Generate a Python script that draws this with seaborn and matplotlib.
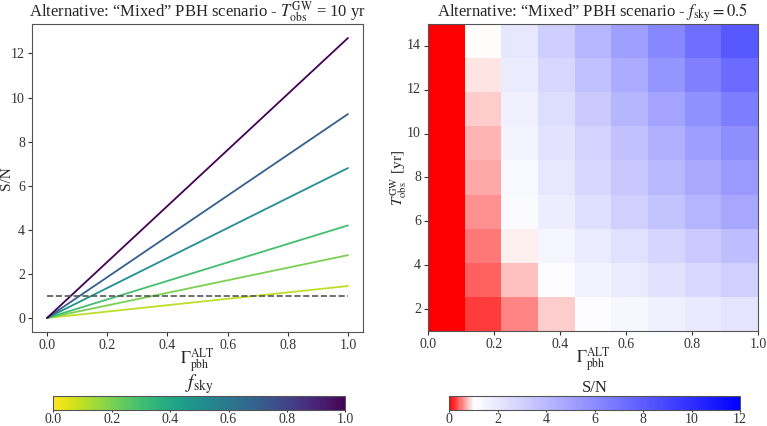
import numpy as np
import pandas as pd
import seaborn as sns
import matplotlib.pyplot as plt
from matplotlib.colors import LinearSegmentedColormap, Normalize
from matplotlib.cm import ScalarMappable

# left panel: S/N vs Gamma for several f_sky (T_obs = 10 yr)
gamma_pts = [0.0, 1.0]
fsky_vals = [0.1, 0.2, 0.3, 0.5, 0.7, 1.0]
sn_end = [1.45, 2.85, 4.2, 6.8, 9.25, 12.7]

# right panel: S/N grid, rows = T_obs (bottom to top), cols = Gamma
gamma_grid = [0.0, 0.125, 0.25, 0.375, 0.5, 0.625, 0.75, 0.875, 1.0]
tobs_grid = [1.0, 2.75, 4.5, 6.25, 8.0, 9.75, 11.5, 13.25, 15.0]
sn_grid = [
    [0, 0.28, 0.55, 0.83, 1.10, 1.38, 1.65, 1.93, 2.20],
    [0, 0.38, 0.75, 1.13, 1.50, 1.88, 2.25, 2.63, 3.00],
    [0, 0.48, 0.95, 1.43, 1.90, 2.38, 2.85, 3.33, 3.80],
    [0, 0.60, 1.20, 1.80, 2.40, 3.00, 3.60, 4.20, 4.80],
    [0, 0.68, 1.35, 2.03, 2.70, 3.38, 4.05, 4.73, 5.40],
    [0, 0.74, 1.48, 2.21, 2.95, 3.69, 4.43, 5.16, 5.90],
    [0, 0.83, 1.65, 2.48, 3.30, 4.13, 4.95, 5.78, 6.60],
    [0, 0.93, 1.85, 2.78, 3.70, 4.63, 5.55, 6.48, 7.40],
    [0, 1.03, 2.05, 3.08, 4.10, 5.13, 6.15, 7.18, 8.20],
]

sns.set_style('ticks')
plt.rcParams.update({
    'font.family': ['Liberation Serif', 'DejaVu Serif'],
    'mathtext.fontset': 'stix',
    'axes.edgecolor': '#555555',
    'xtick.color': '#333333',
    'ytick.color': '#333333',
    'xtick.labelsize': 10,
    'ytick.labelsize': 10,
    'xtick.major.pad': 2,
    'ytick.major.pad': 2,
    'xtick.major.size': 3,
    'ytick.major.size': 3,
    'axes.labelsize': 11,
    'axes.titlesize': 12,
})

fig = plt.figure(figsize=(7.67, 4.26), dpi=100)
ax1 = fig.add_axes([0.0417, 0.2207, 0.4316, 0.723])
ax2 = fig.add_axes([0.558, 0.2230, 0.4303, 0.7207])
cax1 = fig.add_axes([0.0695, 0.0375, 0.3807, 0.034])
cax2 = fig.add_axes([0.5854, 0.0375, 0.3794, 0.034])

rows = []
for f, s in zip(fsky_vals, sn_end):
    for g, k in zip(gamma_pts, [0.0, 1.0]):
        rows.append({'gamma': g, 'sn': s * k, 'fsky': f})
df = pd.DataFrame(rows)
sns.lineplot(data=df, x='gamma', y='sn', hue='fsky', palette='viridis_r',
             hue_norm=(0, 1), legend=False, linewidth=1.3, ax=ax1)
ax1.hlines(1, 0, 1, colors='#555555', linestyles='--', linewidth=1.2)
ax1.set_xlabel(r'$\Gamma_{\rm pbh}^{\rm ALT}$', fontsize=12)
ax1.set_ylabel('S/N')
ax1.xaxis.set_label_coords(0.5, -0.045)
ax1.yaxis.set_label_coords(-0.056, 0.5)
ax1.set_title(r'Alternative: “Mixed” PBH scenario - $T_{\rm obs}^{\rm GW}$ = 10 yr', pad=4)
ax1.set_xticks([0, 0.2, 0.4, 0.6, 0.8, 1.0])
ax1.set_yticks([0, 2, 4, 6, 8, 10, 12])

cb1 = fig.colorbar(ScalarMappable(norm=Normalize(0, 1), cmap='viridis_r'),
                   cax=cax1, orientation='horizontal')
cb1.set_ticks([0, 0.2, 0.4, 0.6, 0.8, 1.0])
cax1.set_title(r'$f_{\rm sky}$', fontsize=14, pad=0)

cmap = LinearSegmentedColormap.from_list(
    'rwb', [(0, 'red'), (1 / 12, 'white'), (1, 'blue')])
grid = pd.DataFrame(sn_grid, index=tobs_grid, columns=gamma_grid)
sns.heatmap(grid, cmap=cmap, vmin=0, vmax=12, cbar=False, ax=ax2)
ax2.set_ylim(0, 9)
ax2.set_xlim(0, 9)
for sp in ax2.spines.values():
    sp.set_visible(True)
    sp.set_color('#555555')
xt = [0, 0.2, 0.4, 0.6, 0.8, 1.0]
ax2.set_xticks([v * 9 for v in xt])
ax2.set_xticklabels([f'{v:.1f}' for v in xt], rotation=0)
yt = [2, 4, 6, 8, 10, 12, 14]
ax2.set_yticks([(v - 1) / 14 * 9 for v in yt])
ax2.set_yticklabels([str(v) for v in yt], rotation=0)
ax2.set_xlabel(r'$\Gamma_{\rm pbh}^{\rm ALT}$', fontsize=12)
ax2.set_ylabel(r'$T_{\rm obs}^{\rm GW}$ [yr]')
ax2.xaxis.set_label_coords(0.5, -0.045)
ax2.yaxis.set_label_coords(-0.058, 0.5)
ax2.set_title(r'Alternative: “Mixed” PBH scenario - $f_{\rm sky} = 0.5$', pad=4)

cb2 = fig.colorbar(ScalarMappable(norm=Normalize(0, 12), cmap=cmap),
                   cax=cax2, orientation='horizontal')
cb2.set_ticks([0, 2, 4, 6, 8, 10, 12])
cax2.set_title('S/N', fontsize=12, pad=1)

for cb in (cb1, cb2):
    cb.ax.tick_params(length=1.5, pad=1, labelsize=10)
    cb.outline.set_edgecolor('#555555')

fig.savefig('out.png', dpi=100)
